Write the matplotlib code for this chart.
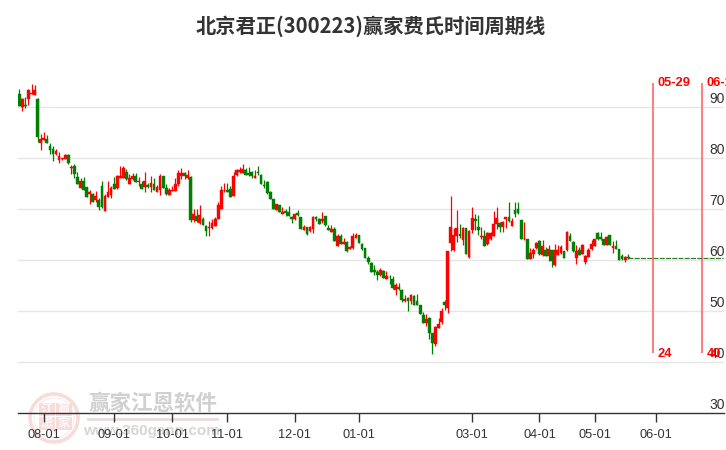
import matplotlib
matplotlib.use("Agg")
import matplotlib.pyplot as plt
from matplotlib.patches import Circle, Rectangle

title = "北京君正(300223)赢家费氏时间周期线"

opens = [
    92.5, 89.9, 90.3, 91.4, 92.5, 92.3, 91.4, 82.9, 83.5, 83.7,
    82.2, 81.6, 80.7, 79.5, 79.7, 79.7, 80.5, 78.0, 78.3, 76.1,
    74.1, 75.3, 74.3, 72.9, 72.9, 71.6, 71.6, 74.5, 69.5, 72.3,
    72.7, 74.9, 74.0, 76.0, 76.0, 77.2, 74.8, 75.7, 76.3, 75.2,
    74.9, 74.2, 74.6, 74.2, 74.8, 73.3, 73.6, 76.3, 74.0, 72.7,
    73.5, 73.5, 74.8, 76.4, 76.9, 75.9, 76.1, 67.8, 68.5, 67.1,
    68.0, 66.5, 66.1, 66.2, 66.6, 68.0, 69.9, 73.6, 73.6, 73.8,
    72.5, 76.5, 77.2, 77.0, 77.5, 77.0, 77.1, 76.0, 77.1, 76.5,
    74.6, 75.2, 73.2, 71.8, 69.8, 70.7, 69.0, 69.6, 69.3, 68.3,
    67.9, 69.1, 68.3, 65.8, 66.3, 65.6, 66.0, 68.3, 67.9, 67.5,
    68.5, 66.1, 65.4, 65.9, 62.6, 64.6, 63.1, 63.4, 62.0, 62.2,
    64.3, 64.8, 63.1, 62.2, 60.3, 59.4, 58.0, 57.5, 56.9, 57.8,
    56.2, 56.6, 56.1, 54.1, 54.6, 54.1, 51.9, 52.5, 51.9, 52.8,
    51.8, 51.0, 49.1, 47.6, 48.5, 45.5, 43.4, 46.6, 47.7, 51.6,
    50.5, 63.3, 61.8, 64.6, 65.0, 63.8, 66.1, 60.4, 65.8, 67.9,
    66.3, 64.4, 64.7, 63.0, 64.0, 64.7, 67.0, 67.1, 66.4, 67.9,
    68.4, 66.6, 69.8, 69.9, 67.7, 64.0, 64.0, 60.1, 61.1, 62.2,
    63.7, 60.8, 61.9, 60.7, 61.8, 58.9, 60.9, 61.2, 61.6, 61.8,
    64.6, 63.4, 60.3, 61.8, 61.1, 59.5, 60.5, 62.0, 62.7, 65.2,
    64.4, 64.0, 62.9, 64.8, 62.3, 62.7, 62.0, 60.7, 59.9, 60.4,
]
closes = [
    90.1, 91.4, 90.1, 93.3, 92.7, 93.2, 84.0, 83.7, 83.9, 82.9,
    81.4, 80.7, 81.2, 80.2, 79.9, 80.4, 79.0, 78.1, 76.8, 74.8,
    75.3, 73.7, 72.3, 73.3, 71.3, 72.4, 70.3, 70.3, 72.4, 73.3,
    74.0, 73.8, 76.3, 76.3, 77.9, 75.8, 75.9, 76.3, 75.2, 75.3,
    73.8, 75.3, 74.2, 75.1, 73.7, 74.2, 76.3, 74.0, 72.8, 73.6,
    73.7, 74.9, 76.9, 76.9, 76.4, 76.6, 67.8, 68.9, 67.6, 68.7,
    66.7, 65.5, 66.3, 67.1, 67.9, 70.6, 73.6, 73.7, 73.2, 72.3,
    76.3, 77.5, 77.6, 77.7, 76.6, 76.5, 76.4, 76.3, 76.9, 74.8,
    74.4, 73.1, 71.9, 69.9, 70.8, 69.3, 69.3, 69.1, 68.6, 68.0,
    68.9, 68.7, 66.0, 66.3, 65.0, 66.3, 68.4, 68.0, 67.0, 67.9,
    66.7, 65.8, 65.9, 63.7, 64.6, 63.1, 63.5, 61.6, 62.5, 64.6,
    64.8, 63.3, 62.0, 60.3, 59.5, 57.6, 57.6, 57.0, 58.0, 56.3,
    56.7, 56.5, 54.4, 55.0, 54.3, 52.1, 52.2, 51.9, 53.1, 51.0,
    51.0, 49.3, 47.5, 48.3, 45.5, 43.6, 46.7, 47.3, 50.0, 51.0,
    61.6, 66.3, 64.8, 66.1, 64.6, 66.1, 61.1, 65.6, 68.2, 67.6,
    65.8, 64.7, 62.7, 65.2, 65.1, 66.9, 68.1, 66.4, 67.4, 68.3,
    67.5, 67.5, 68.9, 69.1, 64.1, 64.1, 60.1, 61.2, 61.9, 63.2,
    61.0, 62.6, 60.7, 62.0, 59.7, 61.8, 61.8, 62.5, 60.3, 65.3,
    63.7, 61.6, 61.6, 60.9, 62.9, 60.6, 61.8, 63.0, 64.0, 64.1,
    64.1, 62.9, 64.4, 62.9, 62.6, 62.1, 59.9, 60.1, 60.5, 60.3,
]
highs = [
    93.4, 91.6, 91.8, 93.5, 94.5, 94.3, 91.6, 84.7, 85.0, 84.5,
    82.9, 82.2, 81.6, 81.0, 80.0, 80.6, 80.6, 78.5, 78.8, 77.1,
    75.9, 76.1, 74.3, 73.6, 73.1, 73.5, 72.0, 75.3, 72.9, 75.3,
    74.5, 76.1, 76.5, 78.3, 78.3, 77.7, 76.7, 76.9, 77.0, 76.2,
    75.4, 77.1, 75.1, 76.3, 75.9, 74.6, 76.7, 76.3, 74.8, 74.1,
    74.4, 76.0, 77.5, 77.9, 77.1, 77.5, 76.3, 69.9, 69.9, 70.6,
    68.4, 66.7, 67.5, 68.0, 68.3, 71.2, 74.4, 75.0, 75.0, 74.4,
    77.1, 77.8, 78.2, 78.7, 77.9, 78.1, 77.4, 77.5, 78.3, 76.7,
    75.6, 75.3, 73.4, 71.8, 70.8, 70.7, 70.3, 69.9, 70.5, 68.6,
    69.0, 69.7, 68.4, 66.7, 66.4, 66.5, 68.5, 68.6, 68.2, 69.3,
    68.6, 66.7, 66.7, 66.3, 65.0, 65.0, 64.3, 63.7, 62.7, 65.1,
    65.1, 64.8, 63.3, 62.3, 60.7, 59.6, 58.9, 58.0, 58.3, 57.9,
    57.8, 56.9, 56.7, 55.4, 55.4, 54.2, 53.1, 52.6, 53.2, 53.0,
    53.3, 51.1, 49.8, 49.3, 48.8, 45.5, 46.9, 48.5, 50.5, 52.0,
    61.6, 72.4, 66.1, 69.7, 66.9, 66.4, 66.2, 65.8, 70.2, 69.0,
    68.7, 66.4, 65.8, 65.4, 65.4, 69.5, 70.2, 67.4, 67.6, 68.4,
    71.2, 68.2, 71.2, 71.2, 67.7, 67.4, 64.0, 62.2, 62.2, 63.5,
    63.9, 63.8, 62.5, 62.8, 61.8, 63.1, 62.8, 62.8, 61.7, 65.6,
    65.1, 63.6, 62.8, 62.5, 63.0, 60.9, 62.2, 63.8, 64.1, 65.4,
    65.4, 64.1, 64.6, 64.8, 63.6, 63.8, 62.1, 61.0, 60.7, 61.0,
]
lows = [
    90.1, 89.1, 89.8, 90.3, 92.5, 92.2, 83.1, 81.5, 83.5, 82.9,
    80.7, 79.3, 80.5, 78.9, 79.5, 79.7, 78.8, 76.8, 76.0, 74.8,
    74.0, 73.7, 72.3, 70.9, 71.2, 71.2, 69.7, 70.1, 69.5, 72.3,
    72.0, 73.8, 73.8, 76.0, 76.0, 75.6, 74.8, 75.5, 75.2, 74.4,
    73.8, 73.2, 74.0, 73.3, 73.6, 73.2, 72.7, 74.0, 72.6, 72.6,
    73.5, 73.5, 74.4, 75.8, 75.8, 75.8, 67.3, 67.3, 67.3, 66.9,
    66.7, 64.6, 64.6, 66.0, 66.6, 68.0, 69.9, 73.2, 73.2, 72.2,
    72.4, 76.3, 76.9, 77.0, 76.5, 76.3, 75.9, 76.0, 76.5, 74.8,
    74.0, 72.9, 71.8, 69.9, 69.7, 69.3, 68.9, 68.6, 68.5, 67.1,
    67.7, 68.5, 65.9, 65.8, 64.8, 65.4, 65.2, 67.5, 66.9, 67.2,
    66.5, 65.7, 65.4, 63.6, 62.6, 63.0, 63.0, 61.4, 62.0, 62.0,
    64.3, 63.2, 61.9, 60.3, 59.2, 57.5, 57.0, 55.9, 56.8, 56.3,
    56.1, 55.2, 54.3, 53.1, 54.1, 51.6, 51.6, 49.9, 51.3, 51.0,
    51.0, 49.3, 47.5, 46.9, 44.4, 41.4, 43.0, 46.6, 47.3, 50.1,
    49.5, 61.6, 61.6, 63.4, 64.2, 62.8, 61.0, 60.3, 65.1, 65.8,
    64.8, 64.1, 62.6, 62.8, 63.8, 64.6, 66.0, 65.3, 65.3, 66.2,
    67.3, 66.5, 68.4, 68.9, 64.0, 63.9, 60.1, 60.1, 60.2, 62.0,
    60.9, 60.7, 60.7, 59.7, 58.6, 58.7, 60.9, 61.0, 60.3, 61.6,
    63.6, 61.5, 59.2, 60.9, 61.0, 59.2, 60.4, 61.9, 62.6, 63.9,
    63.9, 62.8, 62.8, 62.8, 61.2, 62.0, 59.9, 60.0, 59.5, 60.1,
]

date_ticks = [8, 31, 50, 68, 90, 111, 148, 170, 188, 208]
date_labels = ["08-01", "09-01", "10-01", "11-01", "12-01", "01-01",
               "03-01", "04-01", "05-01", "06-01"]
price_ticks = [30, 40, 50, 60, 70, 80, 90]

# fibonacci time cycle lines
cycle_index = [207, 223]
cycle_dates = ["05-29", "06-19"]
cycle_counts = [24, 40]
flat_end = 230

RED = "#ff0000"
GREEN = "#008000"
W, H = 726, 450

fig = plt.figure(figsize=(W / 100, H / 100), dpi=100, facecolor="white")

# pixel layer behind the chart, for the title and the watermark
bg = fig.add_axes([0, 0, 1, 1], zorder=0)
bg.set_xlim(0, W)
bg.set_ylim(H, 0)
bg.axis("off")

bg.text(371, 26, title, ha="center", va="center", fontsize=14.6, fontweight="bold",
        color="#333333", family=["Noto Sans CJK SC", "DejaVu Sans"])

pink = "#f7dcdc"
bg.add_patch(Circle((54, 418), 24, fill=False, ec=pink, lw=2.6))
bg.add_patch(Circle((54, 418), 20, fill=False, ec="#fbeeee", lw=1.0))
for cx, cy, ch in [(47, 409, "江"), (64, 409, "赢"), (47, 423, "恩"), (64, 423, "家")]:
    bg.add_patch(Rectangle((cx - 8, cy - 6.5), 16, 13, fc=pink, ec="none"))
    bg.text(cx, cy, ch, ha="center", va="center", fontsize=9, color="#fff6f6",
            fontweight="bold", family=["Noto Sans CJK SC", "DejaVu Sans"])
bg.text(152.5, 403, "赢家江恩软件", ha="center", va="center", fontsize=15.5,
        color="#d0d0d0", fontweight="bold", family=["Noto Sans CJK SC", "DejaVu Sans"])
bg.plot([88, 217], [419, 419], color="#ecd9d9", lw=2)
bg.text(151.5, 431, "www.360gann.com", ha="center", va="center", fontsize=11,
        color="#d6d6d6", fontweight="bold", family="Liberation Sans")

# main chart
ax = fig.add_axes([18 / W, (H - 412.5) / H, 706 / W, 342.5 / H], zorder=1)
ax.patch.set_alpha(0)
ax.set_xlim(-0.43, 230.3)
ax.set_ylim(30, 97.16)

for side in ["top", "left", "right"]:
    ax.spines[side].set_visible(False)
ax.spines["bottom"].set_color("#333333")
ax.spines["bottom"].set_linewidth(1)

for p in price_ticks[1:]:
    ax.axhline(p, color="#e6e6e6", lw=1, zorder=1)
for p in price_ticks:
    ax.text(0.979, p + 0.05, str(p), transform=ax.get_yaxis_transform(), ha="left", va="bottom",
            fontsize=10, color="#333333", family="Liberation Sans", zorder=5)

ax.set_yticks([])
ax.set_xticks(date_ticks)
ax.set_xticklabels(date_labels, fontsize=9.2, color="#333333", family="Liberation Sans")
ax.tick_params(axis="x", length=6.5, width=1, color="#333333", pad=5.5)

# candles, red is up
for i in range(len(opens)):
    color = RED if closes[i] >= opens[i] else GREEN
    ax.vlines(i, lows[i], highs[i], color=color, lw=0.9, zorder=3)
    ax.bar(i, abs(closes[i] - opens[i]), width=0.9, bottom=min(opens[i], closes[i]),
           color=color, edgecolor=color, linewidth=0.3, zorder=4)

# no quotes yet after the last candle, price carried on flat
ax.plot([len(closes) - 1, flat_end], [closes[-1], closes[-1]], color="#2f7d2f",
        lw=0.9, ls=(0, (4, 1)), zorder=3)

for idx, date, count in zip(cycle_index, cycle_dates, cycle_counts):
    ax.vlines(idx, 41.7, 94.6, color="#ff8080", lw=1.5, zorder=2)
    ax.text(idx + 1.7, 94.6, date, ha="left", va="center", fontsize=9.3, fontweight="bold",
            color=RED, family="Liberation Sans", zorder=6, clip_on=False)
    ax.text(idx + 1.7, 41.4, str(count), ha="left", va="center", fontsize=9.3, fontweight="bold",
            color=RED, family="Liberation Sans", zorder=6)

fig.savefig("out.png", dpi=100)
